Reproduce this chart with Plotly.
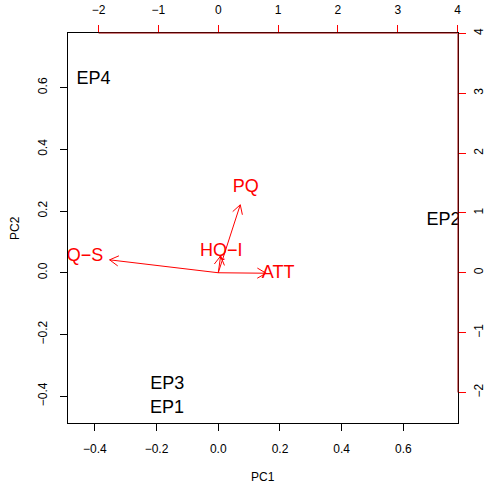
import numpy as np
import plotly.graph_objects as go

# Observation scores (PC1, PC2)
obs_labels = ["EP1", "EP2", "EP3", "EP4"]
obs_pc1 = [-0.166, 0.730, -0.165, -0.404]
obs_pc2 = [-0.440, 0.168, -0.362, 0.627]

# Variable loadings (PC1, PC2)
var_labels = ["ATT", "PQ", "HQ\u2212I", "IQ\u2212S"]
var_pc1 = [1.00, 0.46, 0.05, -2.27]
var_pc2 = [-0.01, 1.42, 0.35, 0.27]

primary_ticks = [-0.4, -0.2, 0.0, 0.2, 0.4, 0.6]
secondary_ticks = [-2, -1, 0, 1, 2, 3, 4]

# R biplot.default style limits
def unsigned_range(v):
    return np.array([-abs(min(v)), abs(max(v))])

r1 = unsigned_range(obs_pc1)
r2 = unsigned_range(obs_pc2)
lim = np.array([min(r1[0], r2[0]), max(r1[1], r2[1])])
ry1 = unsigned_range(var_pc1)
ry2 = unsigned_range(var_pc2)
ratio = max(np.concatenate([ry1 / lim, ry2 / lim]))
ext = (lim[1] - lim[0]) * 0.04
plim = [lim[0] - ext, lim[1] + ext]
slim = [plim[0] * ratio, plim[1] * ratio]

# arrows at 0.8 of loadings, open V heads
ax_x, ax_y = [], []
head_len = 0.17
ang = np.deg2rad(30)
for x, y in zip(var_pc1, var_pc2):
    ex, ey = 0.8 * x, 0.8 * y
    ax_x += [0, ex, None]
    ax_y += [0, ey, None]
    d = np.array([ex, ey]) / np.hypot(ex, ey)
    for s in (ang, -ang):
        rx = d[0] * np.cos(s) - d[1] * np.sin(s)
        ry = d[0] * np.sin(s) + d[1] * np.cos(s)
        ax_x += [ex - head_len * rx, ex, None]
        ax_y += [ey - head_len * ry, ey, None]

FONT = "Liberation Sans, Arial, Helvetica, sans-serif"

fig = go.Figure()
fig.add_trace(go.Scatter(
    x=obs_pc1, y=obs_pc2, text=obs_labels, mode="text",
    textfont=dict(family=FONT, size=18, color="black"),
    textposition="middle center", cliponaxis=True, hoverinfo="skip",
    xaxis="x", yaxis="y", showlegend=False))
fig.add_trace(go.Scatter(
    x=ax_x, y=ax_y, mode="lines", line=dict(color="red", width=1),
    cliponaxis=True, hoverinfo="skip", xaxis="x2", yaxis="y2", showlegend=False))
fig.add_trace(go.Scatter(
    x=var_pc1, y=var_pc2, text=var_labels, mode="text",
    textfont=dict(family=FONT, size=18, color="red"),
    textposition="middle center", cliponaxis=True, hoverinfo="skip",
    xaxis="x2", yaxis="y2", showlegend=False))

tickfont = dict(family=FONT, size=12, color="black")
common = dict(showgrid=False, zeroline=False, ticks="outside", ticklen=7,
              tickwidth=1, tickfont=tickfont, automargin=False)

fig.update_layout(
    width=485, height=490,
    margin=dict(l=68, r=27, t=33, b=67),
    paper_bgcolor="white", plot_bgcolor="white",
    font=dict(family=FONT, size=12, color="black"),
    xaxis=dict(range=plim, tickvals=primary_ticks,
               ticktext=[f"{v:.1f}".replace("-", "\u2212") for v in primary_ticks],
               showline=True, linecolor="black", linewidth=1, mirror=True,
               tickcolor="black", ticklabelstandoff=8, **common),
    yaxis=dict(range=plim, tickvals=primary_ticks,
               ticktext=[f"{v:.1f}".replace("-", "\u2212") for v in primary_ticks],
               showline=True, linecolor="black", linewidth=1, mirror=True,
               tickcolor="black", tickangle=-90, ticklabelstandoff=8, **common),
    xaxis2=dict(range=slim, overlaying="x", side="top", anchor="y",
                tickvals=secondary_ticks,
                ticktext=[str(v).replace("-", "\u2212") for v in secondary_ticks],
                showline=False, tickcolor="red", ticklabelstandoff=6, **common),
    yaxis2=dict(range=slim, overlaying="y", side="right", anchor="x",
                tickvals=secondary_ticks,
                ticktext=[str(v).replace("-", "\u2212") for v in secondary_ticks],
                showline=False, tickcolor="red", tickangle=-90,
                ticklabelstandoff=3, **common),
    shapes=[
        dict(type="line", xref="x2", yref="paper", x0=secondary_ticks[0],
             x1=secondary_ticks[-1], y0=1, y1=1, line=dict(color="#a00000", width=1)),
        dict(type="line", xref="paper", yref="y2", x0=1, x1=1,
             y0=secondary_ticks[0], y1=secondary_ticks[-1],
             line=dict(color="#a00000", width=1)),
    ],
    annotations=[
        dict(text="PC1", xref="paper", yref="paper", x=0.5, y=0, yshift=-54,
             showarrow=False, yanchor="middle", font=dict(family=FONT, size=12)),
        dict(text="PC2", xref="paper", yref="paper", x=0, y=0.5, xshift=-53,
             showarrow=False, xanchor="center", textangle=-90,
             font=dict(family=FONT, size=12)),
    ],
)

fig.write_html("out.html")
